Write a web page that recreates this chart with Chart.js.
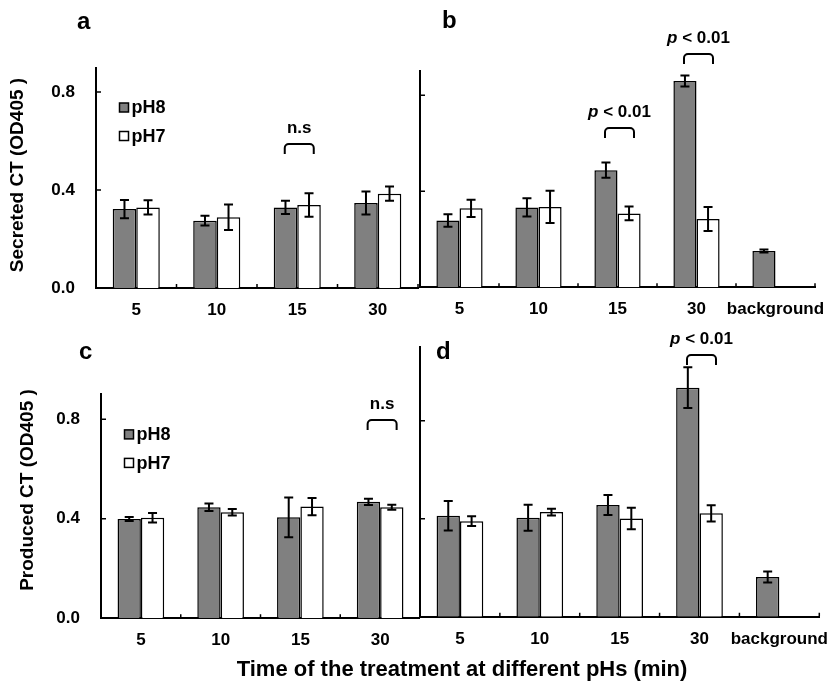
<!DOCTYPE html>
<html>
<head>
<meta charset="utf-8">
<script src="https://cdn.jsdelivr.net/npm/chart.js@4.4.1/dist/chart.umd.min.js"></script>
<style>
  body { margin: 0; background: #fff; }
  #fig { position: relative; width: 833px; height: 684px; overflow: hidden;
         font-family: "Liberation Sans", Arial, sans-serif; font-weight: bold; color: #000; }
  canvas { position: absolute; }
  .txt { position: absolute; white-space: nowrap; }
  .letter { font-size: 24px; line-height: 24px; }
  .ytitle { font-size: 19px; line-height: 19px; transform: translate(-50%, -50%) rotate(-90deg); }
  .xtitle { font-size: 22px; line-height: 22px; transform: translateX(-50%); }
</style>
</head>
<body>
<div id="fig">
  <canvas id="panelA" width="420" height="320" style="left:0;top:0"></canvas>
  <canvas id="panelB" width="423" height="320" style="left:410px;top:0"></canvas>
  <canvas id="panelC" width="420" height="364" style="left:0;top:320px"></canvas>
  <canvas id="panelD" width="423" height="364" style="left:410px;top:320px"></canvas>

  <div class="txt letter" style="left:77px;top:9px">a</div>
  <div class="txt letter" style="left:442px;top:8px">b</div>
  <div class="txt letter" style="left:79px;top:339px">c</div>
  <div class="txt letter" style="left:436px;top:339px">d</div>
  <div class="txt ytitle" style="left:16px;top:175px">Secreted CT (OD405 )</div>
  <div class="txt ytitle" style="left:26px;top:490px">Produced CT (OD405 )</div>
  <div class="txt xtitle" style="left:462px;top:658px">Time of the treatment at different pHs (min)</div>
</div>

<script>
const timeCats = ['5', '10', '15', '30'];
const timeCatsBg = ['5', '10', '15', '30', 'background'];
const seriesNames = ['pH8', 'pH7'];
const yTicks = [0, 0.4, 0.8];

// a - secreted CT
const secA_pH8 = [0.322, 0.275, 0.329, 0.347];
const secA_pH8Err = [0.037, 0.020, 0.027, 0.047];
const secA_pH7 = [0.329, 0.289, 0.339, 0.385];
const secA_pH7Err = [0.029, 0.052, 0.048, 0.029];

// b - secreted CT
const secB_pH8 = [0.278, 0.333, 0.488, 0.860, 0.151];
const secB_pH8Err = [0.026, 0.038, 0.032, 0.023, 0.006];
const secB_pH7 = [0.329, 0.335, 0.308, 0.285, null];
const secB_pH7Err = [0.036, 0.067, 0.029, 0.050, null];

// c - produced CT
const prodC_pH8 = [0.399, 0.446, 0.406, 0.468];
const prodC_pH8Err = [0.008, 0.015, 0.080, 0.013];
const prodC_pH7 = [0.404, 0.426, 0.449, 0.446];
const prodC_pH7Err = [0.019, 0.013, 0.035, 0.010];

// d - produced CT
const prodD_pH8 = [0.412, 0.404, 0.456, 0.935, 0.162];
const prodD_pH8Err = [0.060, 0.053, 0.041, 0.083, 0.022];
const prodD_pH7 = [0.390, 0.427, 0.401, 0.422, null];
const prodD_pH7Err = [0.020, 0.0135, 0.044, 0.033, null];

// significance brackets: category index, label, bracket level
const sigA = { cats: [2], labels: ['n.s'], levels: [0.588] };
const sigB = { cats: [2, 3], labels: ['p < 0.01', 'p < 0.01'], levels: [0.664, 0.972] };
const sigC = { cats: [3], labels: ['n.s'], levels: [0.797] };
const sigD = { cats: [3], labels: ['p < 0.01'], levels: [1.068] };

const FONT = '"Liberation Sans", Arial, sans-serif';

const errorBars = {
  id: 'errbars',
  afterDatasetsDraw(chart, args, opts) {
    const ctx = chart.ctx;
    const y = chart.scales.y;
    ctx.save();
    ctx.strokeStyle = '#000';
    ctx.lineWidth = 2;
    chart.data.datasets.forEach((ds, i) => {
      chart.getDatasetMeta(i).data.forEach((bar, j) => {
        const v = ds.data[j];
        const e = opts.errors[i][j];
        if (v == null || e == null) return;
        const top = y.getPixelForValue(v + e);
        const bot = y.getPixelForValue(v - e);
        ctx.beginPath();
        ctx.moveTo(bar.x, top); ctx.lineTo(bar.x, bot);
        ctx.moveTo(bar.x - 4.5, top); ctx.lineTo(bar.x + 4.5, top);
        ctx.moveTo(bar.x - 4.5, bot); ctx.lineTo(bar.x + 4.5, bot);
        ctx.stroke();
      });
    });
    ctx.restore();
  }
};

// small tick marks pointing into the plot
const innerTicks = {
  id: 'innerTicks',
  afterDraw(chart) {
    const { ctx, chartArea: a, scales: { x, y } } = chart;
    ctx.save();
    ctx.strokeStyle = '#000';
    ctx.lineWidth = 1.5;
    ctx.beginPath();
    yTicks.forEach(v => {
      if (v === 0) return;
      const py = y.getPixelForValue(v);
      ctx.moveTo(a.left, py); ctx.lineTo(a.left + 5, py);
    });
    const n = chart.data.labels.length;
    for (let i = 0; i < n; i++) {
      const px = i < n - 1 ? (x.getPixelForValue(i) + x.getPixelForValue(i + 1)) / 2 : a.right;
      ctx.moveTo(px, a.bottom); ctx.lineTo(px, a.bottom - 4);
    }
    ctx.stroke();
    ctx.restore();
  }
};

function drawSigText(ctx, text, cx, cy) {
  ctx.textBaseline = 'middle';
  if (text.startsWith('p')) {
    const rest = text.slice(1);
    ctx.font = 'italic bold 17px ' + FONT;
    const w1 = ctx.measureText('p').width;
    ctx.font = 'bold 17px ' + FONT;
    const w2 = ctx.measureText(rest).width;
    const x0 = cx - (w1 + w2) / 2;
    ctx.textAlign = 'left';
    ctx.font = 'italic bold 17px ' + FONT;
    ctx.fillText('p', x0, cy);
    ctx.font = 'bold 17px ' + FONT;
    ctx.fillText(rest, x0 + w1, cy);
  } else {
    ctx.font = 'bold 17px ' + FONT;
    ctx.textAlign = 'center';
    ctx.fillText(text, cx, cy);
  }
}

const sigMarks = {
  id: 'sigMarks',
  afterDraw(chart, args, opts) {
    const { ctx, scales: { y } } = chart;
    const m0 = chart.getDatasetMeta(0), m1 = chart.getDatasetMeta(1);
    ctx.save();
    ctx.strokeStyle = '#000';
    ctx.fillStyle = '#000';
    ctx.lineWidth = 2;
    opts.cats.forEach((c, k) => {
      const cx = (m0.data[c].x + m1.data[c].x) / 2 + 2;
      const top = y.getPixelForValue(opts.levels[k]);
      const half = 14.5, leg = 10, r = 4;
      ctx.beginPath();
      ctx.moveTo(cx - half, top + leg);
      ctx.arcTo(cx - half, top, cx - half + r, top, r);
      ctx.arcTo(cx + half, top, cx + half, top + r, r);
      ctx.lineTo(cx + half, top + leg);
      ctx.stroke();
      drawSigText(ctx, opts.labels[k], cx, top - 16);
    });
    ctx.restore();
  }
};

const boxLegend = {
  id: 'boxLegend',
  afterDraw(chart, args, opts) {
    if (!opts.show) return;
    const { ctx, chartArea: a } = chart;
    ctx.save();
    chart.data.datasets.forEach((ds, i) => {
      const xx = a.left + 23.5;
      const yy = a.top + 40 + i * 28.5;
      ctx.fillStyle = ds.backgroundColor;
      ctx.fillRect(xx, yy - 4.5, 9, 9);
      ctx.strokeStyle = '#000';
      ctx.lineWidth = 1.5;
      ctx.strokeRect(xx, yy - 4.5, 9, 9);
      ctx.fillStyle = '#000';
      ctx.font = 'bold 18px ' + FONT;
      ctx.textAlign = 'left';
      ctx.textBaseline = 'middle';
      ctx.fillText(ds.label, xx + 12, yy + 1);
    });
    ctx.restore();
  }
};

function makePanel(id, p) {
  const tickFont = { family: FONT, size: 17, weight: 'bold' };
  new Chart(document.getElementById(id), {
    type: 'bar',
    data: {
      labels: p.cats,
      datasets: [
        { label: seriesNames[0], data: p.pH8, backgroundColor: '#808080', borderColor: '#000', borderWidth: 1.5 },
        { label: seriesNames[1], data: p.pH7, backgroundColor: '#ffffff', borderColor: '#000', borderWidth: 1.5 }
      ]
    },
    options: {
      responsive: false,
      animation: false,
      categoryPercentage: 0.585,
      barPercentage: 1,
      layout: { padding: { top: p.top, right: p.right, left: 0, bottom: 0 } },
      plugins: {
        legend: { display: false },
        tooltip: { enabled: false },
        errbars: { errors: [p.err8, p.err7] },
        sigMarks: p.sig,
        boxLegend: { show: p.legend }
      },
      scales: {
        x: {
          grid: { display: false },
          border: { display: true, color: '#000', width: 2 },
          ticks: { color: '#000', font: tickFont, padding: p.xPad, maxRotation: 0, autoSkip: false },
          afterFit: s => { s.height = p.xH; }
        },
        y: {
          min: 0,
          max: p.max,
          grid: { display: false },
          border: { display: true, color: '#000', width: 2 },
          ticks: { display: p.yLabels, color: '#000', font: tickFont, padding: 13,
                   callback: v => v.toFixed(1) },
          afterBuildTicks: s => { s.ticks = yTicks.map(v => ({ value: v })); },
          afterFit: s => { s.width = p.yW; }
        }
      }
    },
    plugins: [errorBars, innerTicks, sigMarks, boxLegend]
  });
}

makePanel('panelA', { cats: timeCats, pH8: secA_pH8, pH7: secA_pH7, err8: secA_pH8Err, err7: secA_pH7Err,
  sig: sigA, legend: true, top: 67.5, right: 2, yW: 96, xH: 32, xPad: 4, max: 0.9, yLabels: true });
makePanel('panelB', { cats: timeCatsBg, pH8: secB_pH8, pH7: secB_pH7, err8: secB_pH8Err, err7: secB_pH7Err,
  sig: sigB, legend: false, top: 71.3, right: 18, yW: 10, xH: 32.7, xPad: 4, max: 0.9, yLabels: false });
makePanel('panelC', { cats: timeCats, pH8: prodC_pH8, pH7: prodC_pH7, err8: prodC_pH8Err, err7: prodC_pH7Err,
  sig: sigC, legend: true, top: 74.4, right: 0, yW: 101, xH: 65.7, xPad: 4, max: 0.9, yLabels: true });
makePanel('panelD', { cats: timeCatsBg, pH8: prodD_pH8, pH7: prodD_pH7, err8: prodD_pH8Err, err7: prodD_pH7Err,
  sig: sigD, legend: false, top: 27.2, right: 10, yW: 10, xH: 67.3, xPad: 4, max: 1.1, yLabels: false });
</script>
</body>
</html>
